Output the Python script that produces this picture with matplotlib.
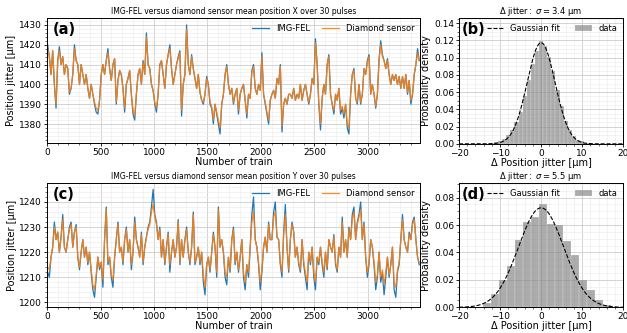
import numpy as np
import matplotlib.pyplot as plt

# ---- data ----
# mean position X, sampled every ~15.6 trains (IMG-FEL / diamond sensor)
pos_x_fel = [1420, 1414, 1405, 1417, 1400, 1388, 1412, 1419, 1410, 1414,
             1405, 1410, 1408, 1395, 1398, 1405, 1420, 1412, 1410, 1400,
             1410, 1405, 1400, 1405, 1398, 1393, 1400, 1395, 1390, 1386,
             1385, 1392, 1405, 1410, 1405, 1412, 1418, 1408, 1402, 1410,
             1413, 1390, 1402, 1407, 1405, 1398, 1386, 1400, 1403, 1407,
             1395, 1385, 1382, 1395, 1405, 1408, 1400, 1412, 1405, 1426,
             1410, 1408, 1400, 1397, 1390, 1386, 1395, 1410, 1412, 1405,
             1398, 1410, 1415, 1420, 1408, 1400, 1405, 1410, 1414, 1417,
             1384, 1400, 1405, 1430, 1410, 1405, 1415, 1408, 1403, 1398,
             1405, 1396, 1392, 1390, 1395, 1404, 1400, 1390, 1388, 1380,
             1390, 1385, 1380, 1375, 1390, 1395, 1405, 1410, 1400, 1395,
             1398, 1390, 1395, 1398, 1385, 1395, 1398, 1400, 1392, 1383,
             1395, 1393, 1407, 1410, 1398, 1395, 1400, 1397, 1416, 1395,
             1390, 1385, 1380, 1392, 1395, 1397, 1393, 1403, 1400, 1410,
             1376, 1390, 1393, 1390, 1395, 1395, 1393, 1398, 1392, 1395,
             1393, 1400, 1392, 1397, 1400, 1395, 1390, 1395, 1403, 1400,
             1423, 1410, 1390, 1377, 1393, 1400, 1395, 1410, 1415, 1395,
             1390, 1385, 1395, 1392, 1398, 1385, 1388, 1383, 1390, 1378,
             1375, 1395, 1405, 1408, 1393, 1390, 1400, 1390, 1395, 1408,
             1405, 1412, 1415, 1395, 1400, 1395, 1388, 1395, 1413, 1422,
             1415, 1412, 1408, 1413, 1405, 1400, 1405, 1402, 1405, 1400,
             1404, 1398, 1404, 1398, 1405, 1395, 1402, 1390, 1395, 1405,
             1410, 1418, 1412]
pos_x_dia = [1418, 1414, 1405, 1417, 1400, 1390, 1412, 1417, 1410, 1414,
             1405, 1410, 1408, 1396, 1398, 1405, 1418, 1412, 1410, 1400,
             1410, 1405, 1400, 1405, 1398, 1393, 1400, 1395, 1391, 1388,
             1387, 1392, 1405, 1410, 1405, 1412, 1416, 1408, 1402, 1410,
             1413, 1391, 1402, 1407, 1405, 1398, 1388, 1400, 1403, 1407,
             1395, 1387, 1384, 1395, 1405, 1408, 1400, 1411, 1405, 1424,
             1410, 1408, 1400, 1397, 1391, 1388, 1395, 1410, 1412, 1405,
             1398, 1410, 1415, 1418, 1408, 1400, 1405, 1410, 1413, 1416,
             1387, 1400, 1405, 1428, 1410, 1405, 1414, 1408, 1403, 1398,
             1405, 1396, 1392, 1391, 1395, 1403, 1400, 1391, 1389, 1382,
             1390, 1386, 1382, 1378, 1390, 1395, 1405, 1409, 1400, 1395,
             1398, 1391, 1395, 1398, 1387, 1395, 1398, 1400, 1392, 1385,
             1395, 1393, 1406, 1409, 1398, 1395, 1400, 1397, 1414, 1395,
             1391, 1386, 1382, 1392, 1395, 1397, 1393, 1403, 1400, 1409,
             1379, 1390, 1393, 1390, 1395, 1395, 1393, 1398, 1392, 1395,
             1393, 1400, 1392, 1397, 1400, 1395, 1391, 1395, 1403, 1400,
             1421, 1410, 1391, 1380, 1393, 1400, 1395, 1410, 1414, 1395,
             1390, 1387, 1395, 1392, 1398, 1387, 1389, 1385, 1390, 1380,
             1378, 1395, 1405, 1407, 1393, 1391, 1400, 1391, 1395, 1408,
             1405, 1411, 1414, 1395, 1400, 1395, 1389, 1395, 1412, 1420,
             1414, 1412, 1408, 1412, 1405, 1400, 1405, 1402, 1405, 1400,
             1404, 1398, 1404, 1398, 1405, 1396, 1402, 1392, 1395, 1405,
             1410, 1416, 1412]

# mean position Y
pos_y_fel = [1212, 1210, 1218, 1222, 1232, 1225, 1228, 1220, 1226, 1235,
             1222, 1220, 1225, 1230, 1232, 1222, 1228, 1231, 1218, 1213,
             1220, 1225, 1218, 1222, 1215, 1220, 1212, 1205, 1202, 1210,
             1218, 1213, 1216, 1206, 1225, 1238, 1215, 1218, 1210, 1206,
             1218, 1225, 1232, 1220, 1222, 1215, 1225, 1230, 1220, 1225,
             1213, 1220, 1234, 1225, 1222, 1218, 1228, 1215, 1222, 1226,
             1230, 1232, 1238, 1245, 1235, 1232, 1225, 1230, 1218, 1225,
             1215, 1222, 1228, 1212, 1220, 1225, 1218, 1222, 1233, 1215,
             1225, 1218, 1225, 1230, 1220, 1215, 1222, 1236, 1215, 1218,
             1222, 1215, 1220, 1208, 1203, 1215, 1218, 1212, 1220, 1228,
             1222, 1210, 1238, 1222, 1225, 1220, 1210, 1207, 1218, 1212,
             1225, 1230, 1215, 1220, 1212, 1218, 1225, 1210, 1205, 1215,
             1210, 1222, 1235, 1242, 1225, 1222, 1215, 1205, 1212, 1222,
             1226, 1220, 1232, 1225, 1225, 1236, 1240, 1226, 1225, 1215,
             1210, 1228, 1239, 1222, 1212, 1225, 1232, 1228, 1218, 1222,
             1215, 1212, 1225, 1215, 1210, 1205, 1220, 1215, 1222, 1210,
             1205, 1218, 1215, 1222, 1215, 1210, 1220, 1213, 1225, 1222,
             1220, 1227, 1215, 1212, 1222, 1218, 1234, 1220, 1225, 1218,
             1230, 1225, 1235, 1238, 1225, 1232, 1235, 1240, 1225, 1232,
             1218, 1210, 1215, 1225, 1222, 1215, 1205, 1210, 1220, 1208,
             1212, 1203, 1210, 1218, 1210, 1215, 1222, 1205, 1202, 1212,
             1215, 1225, 1235, 1225, 1222, 1220, 1228, 1225, 1232, 1234,
             1225, 1218, 1215]
pos_y_dia = [1214, 1213, 1218, 1222, 1230, 1225, 1228, 1220, 1226, 1233,
             1222, 1220, 1225, 1229, 1231, 1222, 1228, 1230, 1218, 1214,
             1220, 1225, 1218, 1222, 1216, 1220, 1213, 1207, 1205, 1211,
             1218, 1214, 1216, 1209, 1225, 1237, 1216, 1218, 1211, 1209,
             1218, 1225, 1231, 1220, 1222, 1216, 1225, 1229, 1220, 1225,
             1215, 1220, 1232, 1225, 1222, 1218, 1227, 1216, 1222, 1226,
             1229, 1231, 1236, 1239, 1234, 1231, 1225, 1229, 1218, 1225,
             1216, 1222, 1227, 1215, 1220, 1225, 1218, 1222, 1232, 1216,
             1225, 1218, 1225, 1229, 1220, 1216, 1222, 1235, 1216, 1218,
             1222, 1216, 1220, 1211, 1206, 1215, 1218, 1213, 1220, 1227,
             1222, 1212, 1237, 1222, 1225, 1220, 1212, 1210, 1218, 1213,
             1225, 1229, 1216, 1220, 1213, 1218, 1225, 1212, 1208, 1215,
             1212, 1222, 1232, 1236, 1225, 1222, 1216, 1208, 1213, 1222,
             1226, 1220, 1231, 1225, 1225, 1234, 1236, 1226, 1225, 1216,
             1212, 1227, 1235, 1222, 1213, 1225, 1231, 1228, 1218, 1222,
             1216, 1213, 1225, 1216, 1212, 1208, 1220, 1216, 1222, 1212,
             1208, 1218, 1216, 1222, 1216, 1212, 1220, 1214, 1225, 1222,
             1220, 1226, 1216, 1213, 1222, 1218, 1232, 1220, 1225, 1218,
             1229, 1225, 1233, 1236, 1225, 1231, 1234, 1237, 1225, 1231,
             1218, 1212, 1216, 1225, 1222, 1216, 1208, 1211, 1220, 1210,
             1213, 1207, 1212, 1218, 1211, 1215, 1222, 1208, 1206, 1213,
             1216, 1225, 1233, 1225, 1222, 1220, 1227, 1225, 1231, 1233,
             1225, 1218, 1216]

n_trains = 3480

# Delta jitter histograms (density), X: bin width 1, centred on integers
hist_x_centers = list(range(-13, 14))
hist_x_density = [0.0004, 0.001, 0.002, 0.003, 0.006, 0.010, 0.016, 0.025, 0.037,
                  0.056, 0.074, 0.093, 0.108, 0.119, 0.113, 0.101, 0.084, 0.063,
                  0.044, 0.027, 0.016, 0.009, 0.005, 0.003, 0.0015, 0.0008, 0.0004]
sigma_x = 3.4

# Y: bin width 1.95, left edges
hist_y_lefts = [-14.2, -12.25, -10.3, -8.35, -6.4, -4.45, -2.5, -0.55,
                1.4, 3.35, 5.3, 7.25, 9.2, 11.15, 13.1, 15.05]
hist_y_density = [0.003, 0.010, 0.020, 0.030, 0.049, 0.062, 0.066, 0.075,
                  0.061, 0.060, 0.048, 0.038, 0.020, 0.013, 0.005, 0.002]
sigma_y = 5.5

# ---- figure ----
fig = plt.figure(figsize=(6.27, 3.33), dpi=100)

ax_a = fig.add_axes([0.075, 0.571, 0.595, 0.375])
ax_b = fig.add_axes([0.732, 0.568, 0.262, 0.378])
ax_c = fig.add_axes([0.075, 0.077, 0.595, 0.373])
ax_d = fig.add_axes([0.732, 0.077, 0.262, 0.373])

tick_fs = 6.5
label_fs = 7


def style_grid(ax):
    ax.minorticks_on()
    ax.grid(which="major", color="#cccccc", linewidth=0.6)
    ax.grid(which="minor", color="#ebebeb", linewidth=0.4)
    ax.set_axisbelow(True)
    ax.tick_params(labelsize=tick_fs, length=2.5, width=0.6, pad=1)
    ax.tick_params(which="minor", length=1.5, width=0.4)
    for s in ax.spines.values():
        s.set_linewidth(0.7)


# time series panels
for ax, fel, dia, axis_name, tag, ylim, yticks in [
        (ax_a, pos_x_fel, pos_x_dia, "X", "(a)", (1370.5, 1433.5), np.arange(1380, 1431, 10)),
        (ax_c, pos_y_fel, pos_y_dia, "Y", "(c)", (1198, 1247.5), np.arange(1200, 1241, 10))]:
    trains = np.linspace(6, n_trains, len(fel))
    ax.plot(trains, fel, color="tab:blue", linewidth=0.9, label="IMG-FEL")
    ax.plot(trains, dia, color="tab:orange", linewidth=0.9, alpha=0.9, label="Diamond sensor")
    ax.set_xlim(0, 3488)
    ax.set_ylim(*ylim)
    ax.set_yticks(yticks)
    ax.set_xticks(np.arange(0, 3001, 500))
    style_grid(ax)
    ax.set_title("IMG-FEL versus diamond sensor mean position %s over 30 pulses" % axis_name,
                 fontsize=5.5, pad=3)
    ax.set_xlabel("Number of train", fontsize=label_fs, labelpad=0)
    ax.set_ylabel("Position jitter [µm]", fontsize=label_fs, labelpad=2)
    ax.legend(loc="upper right", ncol=2, frameon=False, fontsize=6,
              borderaxespad=0.3, columnspacing=1.5)
    ax.text(0.015, 0.97, tag, transform=ax.transAxes, fontsize=10.5,
            fontweight="bold", va="top", ha="left")

# histogram panels
xs = np.linspace(-20, 20, 400)

ax_b.plot(xs, np.exp(-xs**2 / (2 * sigma_x**2)) / (np.sqrt(2 * np.pi) * sigma_x),
          "k--", linewidth=0.8, label="Gaussian fit")
ax_b.bar(hist_x_centers, hist_x_density, width=1.0, color="gray", alpha=0.65,
         edgecolor="white", linewidth=0.2, label="data", zorder=1)
ax_b.set_ylim(0, 0.146)
ax_b.set_yticks(np.arange(0, 0.141, 0.02))

ax_d.plot(xs, np.exp(-xs**2 / (2 * sigma_y**2)) / (np.sqrt(2 * np.pi) * sigma_y),
          "k--", linewidth=0.8, label="Gaussian fit")
ax_d.bar(hist_y_lefts, hist_y_density, width=1.95, align="edge", color="gray", alpha=0.65,
         edgecolor="white", linewidth=0.2, label="data", zorder=1)
ax_d.set_ylim(0, 0.0905)
ax_d.set_yticks(np.arange(0, 0.081, 0.02))

for ax, sig, tag in [(ax_b, sigma_x, "(b)"), (ax_d, sigma_y, "(d)")]:
    ax.set_xlim(-20, 20)
    ax.set_xticks([-20, -10, 0, 10, 20])
    ax.yaxis.set_major_formatter(plt.FormatStrFormatter("%.2f"))
    style_grid(ax)
    ax.set_title("Δ jitter$:$ $\\sigma = %.1f$ µm" % sig, fontsize=6, pad=1.5)
    ax.set_xlabel("Δ Position jitter [µm]", fontsize=label_fs, labelpad=0)
    ax.set_ylabel("Probability density", fontsize=label_fs, labelpad=2)
    ax.legend(loc="upper right", ncol=2, frameon=False, fontsize=6,
              borderaxespad=0.3, columnspacing=1.8)
    ax.text(0.02, 0.97, tag, transform=ax.transAxes, fontsize=10.5,
            fontweight="bold", va="top", ha="left")

plt.savefig("out.png", dpi=100)
